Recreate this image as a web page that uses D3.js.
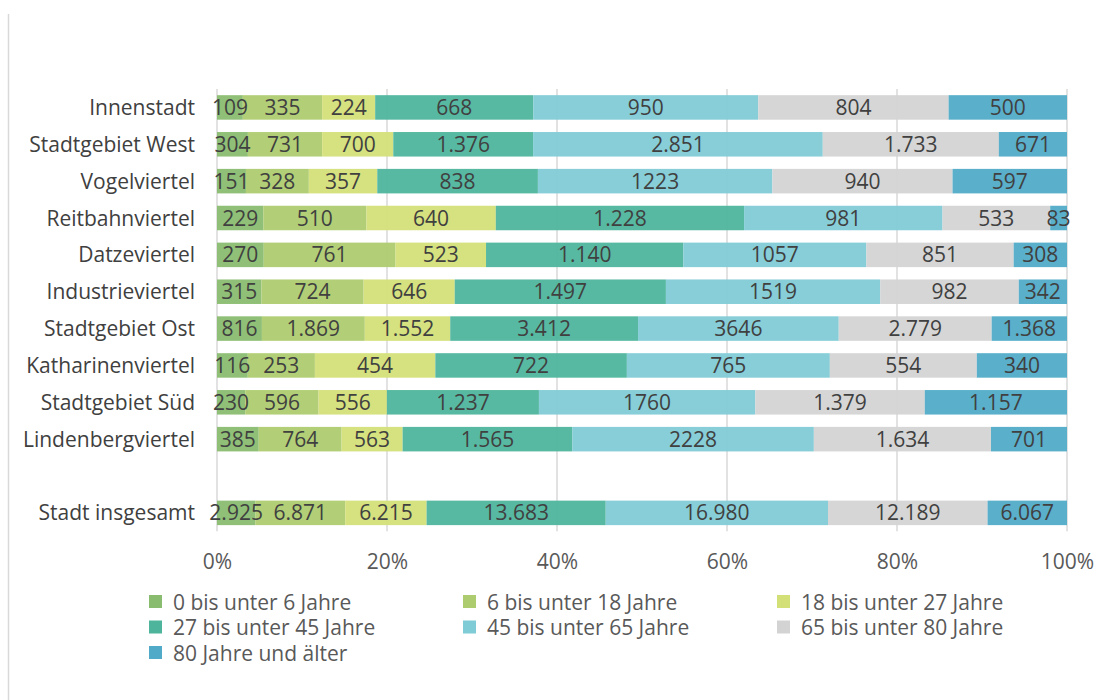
<!DOCTYPE html>
<html>
<head>
<meta charset="utf-8">
<script src="https://cdn.jsdelivr.net/npm/d3@7"></script>
<style>
  body { margin: 0; background: #fff; }
  svg { font-family: "Open Sans", sans-serif; }
</style>
</head>
<body>
<svg id="viz" width="1113" height="700"></svg>
<script>
const svg = d3.select("#viz");

// Altersgruppen (Legende) und Farben
const ageGroups = [
  "0 bis unter 6 Jahre", "6 bis unter 18 Jahre", "18 bis unter 27 Jahre",
  "27 bis unter 45 Jahre", "45 bis unter 65 Jahre", "65 bis unter 80 Jahre",
  "80 Jahre und älter"
];
const colors = ["#89bc6e", "#adcc6f", "#d3df77", "#4eb59c", "#7fcbd6", "#d3d3d3", "#50aac8"];

// Stadtteile (von oben nach unten), Werte wie im Original beschriftet
const districts = [
  "Innenstadt", "Stadtgebiet West", "Vogelviertel", "Reitbahnviertel",
  "Datzeviertel", "Industrieviertel", "Stadtgebiet Ost", "Katharinenviertel",
  "Stadtgebiet Süd", "Lindenbergviertel", "", "Stadt insgesamt"
];
const innenstadt      = ["109", "335", "224", "668", "950", "804", "500"];
const stadtgebietWest = ["304", "731", "700", "1.376", "2.851", "1.733", "671"];
const vogelviertel    = ["151", "328", "357", "838", "1223", "940", "597"];
const reitbahnviertel = ["229", "510", "640", "1.228", "981", "533", "83"];
const datzeviertel    = ["270", "761", "523", "1.140", "1057", "851", "308"];
const industrieviertel = ["315", "724", "646", "1.497", "1519", "982", "342"];
const stadtgebietOst  = ["816", "1.869", "1.552", "3.412", "3646", "2.779", "1.368"];
const katharinenviertel = ["116", "253", "454", "722", "765", "554", "340"];
const stadtgebietSued = ["230", "596", "556", "1.237", "1760", "1.379", "1.157"];
const lindenbergviertel = ["385", "764", "563", "1.565", "2228", "1.634", "701"];
const stadtInsgesamt  = ["2.925", "6.871", "6.215", "13.683", "16.980", "12.189", "6.067"];

const rowLabels = [
  innenstadt, stadtgebietWest, vogelviertel, reitbahnviertel, datzeviertel,
  industrieviertel, stadtgebietOst, katharinenviertel, stadtgebietSued,
  lindenbergviertel, null, stadtInsgesamt
];
const xTicks = [0, 0.2, 0.4, 0.6, 0.8, 1];

const parseNum = s => +s.replace(/\./g, "");

// Skalen
const x = d3.scaleLinear().domain([0, 1]).range([217, 1067]);
const y = d3.scaleBand()
  .domain(d3.range(districts.length))
  .range([89, 531.3])
  .paddingInner(0.335)
  .paddingOuter(0.1675);

// linke Rahmenlinie
svg.append("line")
  .attr("x1", 8.5).attr("x2", 8.5)
  .attr("y1", 14).attr("y2", 700)
  .attr("stroke", "#d9d9d9").attr("stroke-width", 1.5);

// Gitterlinien
svg.append("g")
  .selectAll("line")
  .data(xTicks)
  .enter().append("line")
  .attr("x1", d => x(d)).attr("x2", d => x(d))
  .attr("y1", 89).attr("y2", 531.3)
  .attr("stroke", "#d9d9d9")
  .attr("stroke-width", 1.5);

// gestapelte Segmente berechnen
const segments = [];
rowLabels.forEach((labels, r) => {
  if (!labels) return;
  const vals = labels.map(parseNum);
  const total = d3.sum(vals);
  let acc = 0;
  vals.forEach((v, k) => {
    segments.push({ row: r, k, label: labels[k], x0: acc / total, x1: (acc + v) / total });
    acc += v;
  });
});

// erst alle Balken, dann alle Beschriftungen (damit nichts verdeckt wird)
svg.append("g")
  .selectAll("rect")
  .data(segments)
  .enter().append("rect")
  .attr("x", d => x(d.x0))
  .attr("width", d => x(d.x1) - x(d.x0))
  .attr("y", d => y(d.row))
  .attr("height", y.bandwidth())
  .attr("fill", d => colors[d.k])
  .attr("fill-opacity", 0.94);

svg.append("g")
  .selectAll("text")
  .data(segments)
  .enter().append("text")
  .attr("x", d => (x(d.x0) + x(d.x1)) / 2)
  .attr("y", d => y(d.row) + y.bandwidth() / 2)
  .attr("dy", "0.36em")
  .attr("text-anchor", "middle")
  .attr("fill", "#404040")
  .style("font-size", "21px")
  .text(d => d.label);

// Kategorienbeschriftung
svg.append("g")
  .selectAll("text")
  .data(districts.map((d, i) => ({ name: d, i })).filter(d => d.name))
  .enter().append("text")
  .attr("x", 195)
  .attr("y", d => y(d.i) + y.bandwidth() / 2)
  .attr("dy", "0.36em")
  .attr("text-anchor", "end")
  .attr("fill", "#404040")
  .style("font-size", "21px")
  .text(d => d.name);

// x-Achse
const xAxis = svg.append("g")
  .attr("transform", "translate(0,531.3)")
  .call(d3.axisBottom(x).tickValues(xTicks).tickFormat(d3.format(".0%")).tickSize(0).tickPadding(23));
xAxis.select(".domain").remove();
xAxis.selectAll("text")
  .attr("fill", "#595959")
  .style("font-size", "21px")
  .style("font-family", "'Open Sans', sans-serif");

// Legende
const legend = svg.append("g")
  .selectAll("g")
  .data(ageGroups)
  .enter().append("g")
  .attr("transform", (d, i) => `translate(${149 + (i % 3) * 314},${602 + Math.floor(i / 3) * 25.5})`);

legend.append("rect")
  .attr("x", 0).attr("y", -7)
  .attr("width", 13).attr("height", 13)
  .attr("fill", (d, i) => colors[i]);

legend.append("text")
  .attr("x", 24)
  .attr("dy", "0.36em")
  .attr("fill", "#595959")
  .style("font-size", "21px")
  .text(d => d);
</script>
</body>
</html>
